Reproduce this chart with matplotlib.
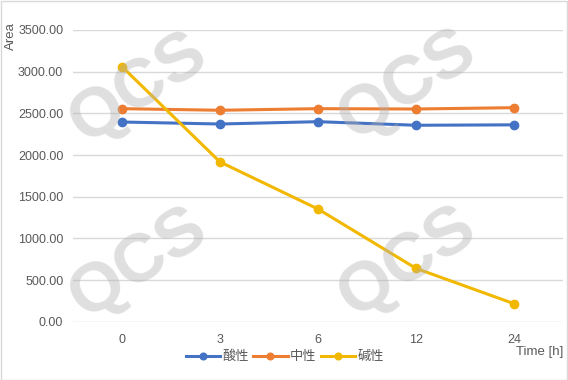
import matplotlib
matplotlib.use("Agg")
import matplotlib.pyplot as plt
import numpy as np

plt.rcParams['font.family'] = ['Liberation Sans', 'Noto Sans CJK SC', 'DejaVu Sans']

times = ["0", "3", "6", "12", "24"]
acid = [2396, 2372, 2400, 2357, 2362]
neutral = [2556, 2537, 2556, 2552, 2568]
alkaline = [3060, 1917, 1352, 640, 216]
names = ["酸性", "中性", "碱性"]
colors = ["#4472C4", "#ED7D31", "#F2B800"]
yticks = [0, 500, 1000, 1500, 2000, 2500, 3000, 3500]

W, H = 568, 380
fig = plt.figure(figsize=(W / 100, H / 100), dpi=100)
ax = fig.add_axes([73 / W, 1 - 321.7 / H, 490 / W, (321.7 - 30) / H])

x = np.arange(len(times))
for vals, name, c in zip([acid, neutral, alkaline], names, colors):
    ax.plot(x, vals, color=c, lw=2.2, marker='o', ms=6, label=name, zorder=3)

ax.set_xlim(-0.5, len(times) - 0.5)
ax.set_ylim(0, 3500)
ax.set_yticks(yticks)
ax.set_yticklabels([f"{v:.2f}" for v in yticks])
ax.set_xticks(x)
ax.set_xticklabels(times)
ax.grid(axis='y', color='#d9d9d9', lw=1)
ax.set_axisbelow(True)
for s in ax.spines.values():
    s.set_visible(False)
ax.tick_params(length=0, labelsize=9, colors='#595959')
ax.tick_params(axis='x', pad=9)
ax.tick_params(axis='y', pad=7)

fig.text(11 / W, 1 - 36 / H, "Area", rotation=90, ha='center', va='center',
         fontsize=9.5, color='#595959')
fig.text(563 / W, 1 - 352 / H, "Time [h]", ha='right', va='center',
         fontsize=9.5, color='#595959')

leg = fig.legend(loc='center', bbox_to_anchor=(285 / W, 1 - 357 / H), ncol=3,
                 frameon=False, fontsize=9.5, handlelength=2.6, columnspacing=0.3,
                 handletextpad=0.2, borderaxespad=0, markerscale=0.8)
for t in leg.get_texts():
    t.set_color('#595959')

# watermark
for cx, cy in [(138, 88), (407, 85), (138, 263), (407, 262)]:
    fig.text(cx / W, 1 - cy / H, "QCS", fontsize=50, fontweight='bold',
             family='Liberation Sans', color='#b0b0b0', alpha=0.4, rotation=33,
             ha='center', va='center', zorder=10)

fig.patches.append(plt.Rectangle((0.5 / W, 0.5 / H), 1 - 1.5 / W, 1 - 1.5 / H,
                                 transform=fig.transFigure, fill=False,
                                 edgecolor='#d9d9d9', lw=1))

fig.savefig("out.png", dpi=100)
